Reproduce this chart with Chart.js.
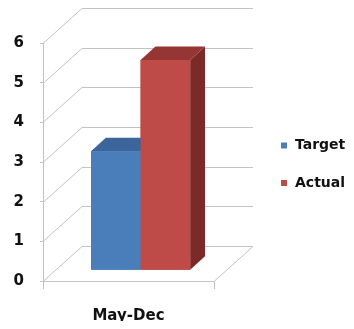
<!DOCTYPE html>
<html>
<head>
<meta charset="utf-8">
<script src="https://cdn.jsdelivr.net/npm/chart.js@4/dist/chart.umd.min.js"></script>
<style>
  html, body { margin: 0; padding: 0; background: #fff; }
  canvas { display: block; }
</style>
</head>
<body>
<canvas id="c" width="354" height="329"></canvas>
<script>
// Chart data
const categories = ['May-Dec'];
const seriesNames = ['Target', 'Actual'];
const targetValues = [3];
const actualValues = [5.3];
const yTicks = [0, 1, 2, 3, 4, 5, 6];

// Styling
const FRONT = ['#4a7ebb', '#be4b48'];
const TOP = ['#3b659b', '#953634'];
const SIDE = ['#2f5380', '#7c2a28'];
const GRID = '#c2c2c2';
const TEXT = '#111111';
const FONT = 'DejaVu Sans';
const DEPTH = { dx: 39, dy: -35 };   // offset from the front plane to the back wall
const BAR_FRONT = 0.31;              // bar front face position within the depth
const BAR_DEPTH = 0.38;              // bar thickness as a share of the depth

// Draws the side wall / back wall gridlines, the floor, and gives the bars their depth
const depthPlugin = {
  id: 'depth3d',
  beforeDatasetsDraw(chart) {
    const { ctx, chartArea: a, scales: { y } } = chart;
    ctx.save();
    ctx.strokeStyle = GRID;
    ctx.lineWidth = 1;
    ctx.beginPath();
    yTicks.forEach(v => {
      const py = Math.round(y.getPixelForValue(v)) + 0.5;
      ctx.moveTo(a.left, py);
      ctx.lineTo(a.left + DEPTH.dx, py + DEPTH.dy);
      ctx.lineTo(a.right + DEPTH.dx, py + DEPTH.dy);
    });
    const y0 = Math.round(y.getPixelForValue(0)) + 0.5;
    ctx.moveTo(a.right, y0);
    ctx.lineTo(a.right + DEPTH.dx, y0 + DEPTH.dy);
    ctx.stroke();
    ctx.restore();

    // bars sit partway back from the front plane
    ctx.save();
    ctx.translate(BAR_FRONT * DEPTH.dx, BAR_FRONT * DEPTH.dy);
  },
  afterDatasetsDraw(chart) {
    const { ctx } = chart;
    ctx.restore();
    const ox = BAR_FRONT * DEPTH.dx, oy = BAR_FRONT * DEPTH.dy;
    const bx = BAR_DEPTH * DEPTH.dx, by = BAR_DEPTH * DEPTH.dy;

    const bars = [];
    chart.data.datasets.forEach((ds, di) => {
      const meta = chart.getDatasetMeta(di);
      meta.data.forEach(el => bars.push({ el, di }));
    });
    bars.sort((p, q) => p.el.x - q.el.x);

    bars.forEach(({ el, di }) => {
      const left = el.x - el.width / 2 + ox;
      const right = el.x + el.width / 2 + ox;
      const top = el.y + oy;
      const bottom = el.base + oy;
      ctx.save();
      // right side face
      ctx.fillStyle = SIDE[di];
      ctx.beginPath();
      ctx.moveTo(right, top);
      ctx.lineTo(right + bx, top + by);
      ctx.lineTo(right + bx, bottom + by);
      ctx.lineTo(right, bottom);
      ctx.closePath();
      ctx.fill();
      // top face
      ctx.fillStyle = TOP[di];
      ctx.beginPath();
      ctx.moveTo(left, top);
      ctx.lineTo(right, top);
      ctx.lineTo(right + bx, top + by);
      ctx.lineTo(left + bx, top + by);
      ctx.closePath();
      ctx.fill();
      // front face
      ctx.translate(ox, oy);
      el.draw(ctx);
      ctx.restore();
    });
  }
};

// Legend on the right, square swatches
const legendPlugin = {
  id: 'sideLegend',
  afterDraw(chart) {
    const { ctx, chartArea: a } = chart;
    ctx.save();
    ctx.font = 'bold 14px "' + FONT + '"';
    ctx.textBaseline = 'middle';
    ctx.textAlign = 'left';
    const x = a.right + 67;
    const rows = [145.5, 183];
    chart.data.datasets.forEach((ds, i) => {
      const cy = rows[i];
      ctx.fillStyle = ds.backgroundColor;
      ctx.fillRect(x, cy - 3, 6, 6);
      ctx.fillStyle = TEXT;
      ctx.fillText(ds.label, x + 14, cy);
    });
    ctx.restore();
  }
};

new Chart(document.getElementById('c'), {
  type: 'bar',
  data: {
    labels: categories,
    datasets: [
      { label: seriesNames[0], data: targetValues, backgroundColor: FRONT[0] },
      { label: seriesNames[1], data: actualValues, backgroundColor: FRONT[1] }
    ]
  },
  options: {
    responsive: false,
    devicePixelRatio: 1,
    animation: false,
    events: [],
    categoryPercentage: 0.58,
    barPercentage: 1.0,
    layout: { padding: { left: 13, top: 43, right: 140, bottom: 8 } },
    plugins: { legend: { display: false }, tooltip: { enabled: false } },
    scales: {
      x: {
        afterFit(scale) { scale.height = 40; },
        border: { display: true, color: GRID },
        grid: { drawOnChartArea: false, tickLength: 8, color: GRID, offset: true },
        ticks: { color: TEXT, font: { family: FONT, size: 15, weight: 'bold' }, padding: 18 }
      },
      y: {
        min: 0,
        max: 6,
        afterFit(scale) { scale.width = 30; },
        border: { display: true, color: GRID },
        grid: { drawOnChartArea: false, tickLength: 3, color: GRID },
        ticks: { stepSize: 1, color: TEXT, font: { family: FONT, size: 15, weight: 'bold' }, padding: 16 }
      }
    }
  },
  plugins: [depthPlugin, legendPlugin]
});
</script>
</body>
</html>
